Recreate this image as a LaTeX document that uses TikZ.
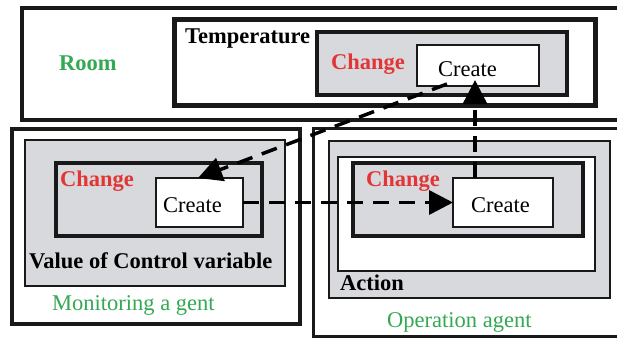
\documentclass[tikz,border=0pt]{standalone}
\usepackage{fontspec}
\setmainfont{Liberation Serif}
\usetikzlibrary{arrows.meta,calc}
\definecolor{panelgray}{RGB}{216,217,221}
\definecolor{labelred}{RGB}{226,54,54}
\definecolor{labelgreen}{RGB}{52,168,83}
\tikzset{
  frame/.style={draw=black!90, inner sep=0pt, outer sep=0pt, anchor=north west},
  heavy/.style={frame, line width=4pt},
  light/.style={frame, line width=1.5pt},
  txt/.style={inner sep=0pt, anchor=base west, font=\fontsize{22.5}{27}\selectfont},
  bold/.style={txt, font=\fontsize{22.5}{27}\selectfont\bfseries},
  redlbl/.style={bold, text=labelred},
  flow/.style={line width=3.5pt, dash pattern=on 16pt off 10pt,
    -{Triangle[length=24pt,width=24pt]}},
}
\begin{document}
\begin{tikzpicture}[x=1pt,y=-1pt]
\clip (0,0) rectangle (617,337);
\fill[white] (0,0) rectangle (617,337);

% Room with its temperature
\node[heavy, minimum width=610, minimum height=112] (room) at (22,8) {};
\node[heavy, line width=5pt, minimum width=421, minimum height=85] (temp) at (174,20) {};
\node[heavy, fill=panelgray, minimum width=250, minimum height=63] (tchange) at (317,32) {};
\node[light, fill=white, minimum width=122, minimum height=41] (tcreate) at (417,45) {};

% Monitoring agent
\node[heavy, line width=3.5pt, minimum width=288, minimum height=195] (mon) at (12,129) {};
\node[light, fill=panelgray, minimum width=260, minimum height=146] (vcv) at (25,140) {};
\node[heavy, minimum width=206, minimum height=73] (mchange) at (56,163) {};
\node[light, fill=white, minimum width=87, minimum height=49] (mcreate) at (156,178) {};

% Operation agent
\node[heavy, line width=3pt, minimum width=330, minimum height=208] (op) at (313,128) {};
\node[light, fill=panelgray, minimum width=281, minimum height=157] (act) at (329,141) {};
\node[light, fill=white, minimum width=257, minimum height=114] (actin) at (338,157) {};
\node[heavy, fill=panelgray, minimum width=230, minimum height=73] (ochange) at (353,163) {};
\node[light, fill=white, minimum width=100, minimum height=49] (ocreate) at (453,178) {};

% Labels
\node[bold, text=labelgreen] (lroom) at (59,70) {Room};
\node[bold] (ltemp) at (185,44) {Temperature};
\node[redlbl] (ltchange) at (331,69) {Change};
\node[txt] (ltcreate) at (438,76) {Create};

\node[redlbl] (lmchange) at (60,186) {Change};
\node[txt] (lmcreate) at (163,212) {Create};
\node[bold] (lvcv) at (29,268) {Value of Control variable};
\node[txt, text=labelgreen] (lmon) at (52,310) {Monitoring a gent};

\node[redlbl] (lochange) at (366,186) {Change};
\node[txt] (locreate) at (471,212) {Create};
\node[bold] (lact) at (340,290) {Action};
\node[txt, text=labelgreen] (lop) at (387,327) {Operation agent};

% Flows between the Create boxes
\coordinate (uptip) at (475,80);
\coordinate (downstart) at ($(tcreate.south west)+(30,-2)$);
\coordinate (downtip) at ($(mcreate.north west)+(42,0)$);
\draw[flow] (mcreate.east) -- (ocreate.west);
\draw[flow] (ocreate.north -| uptip) -- (uptip);
\draw[flow] (downstart) -- (downtip);
\end{tikzpicture}
\end{document}
